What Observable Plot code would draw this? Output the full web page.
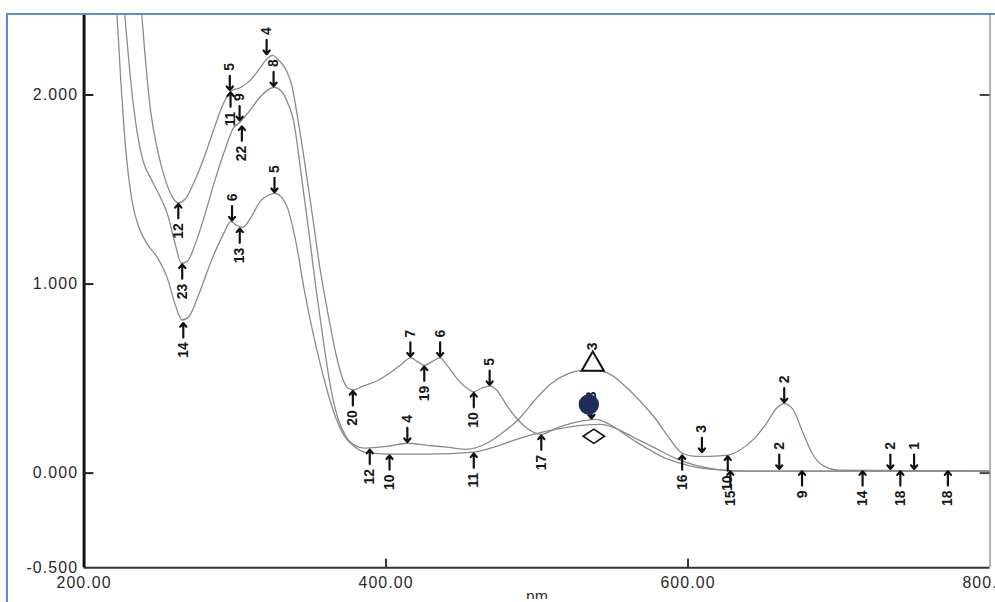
<!DOCTYPE html>
<html><head><meta charset="utf-8">
<script src="https://cdn.jsdelivr.net/npm/d3@7"></script>
<script src="https://cdn.jsdelivr.net/npm/@observablehq/plot@0.6"></script>
<style>
html,body{margin:0;padding:0;background:#fff;overflow:hidden;width:995px;height:602px;}
#wrap{position:relative;width:995px;height:602px;overflow:hidden;}
#border{position:absolute;left:6px;top:13px;width:2000px;height:1000px;border-top:2px solid #5b8bd0;border-left:2px solid #5b8bd0;pointer-events:none;}
svg{font-family:"Liberation Sans",Arial,sans-serif;}
g[aria-label="x-axis tick label"] text, g[aria-label="y-axis tick label"] text{letter-spacing:1.1px;}
</style></head><body><div id="wrap"><div id="chart"></div><div id="border"></div></div>
<script>
// axis ticks
const wavelengthTicks = [200, 400, 600, 800];
const xTickLabels = ["200.00", "400.00", "600.00", "800.00"];
const absTicks = [-0.5, 0, 1, 2];
const yTickLabels = ["-0.500", "0.000", "1.000", "2.000"];

// spectrum 1 (highest in UV, bands 400-470 nm)
const curveA_nm = [234.2,238.1,240.7,244.0,248.6,253.9,258.5,262.4,267.0,272.9,279.5,286.0,292.0,297.2,303.8,310.3,316.3,320.9,324.8,329.4,334.0,337.9,340.6,345.8,351.1,356.3,361.6,366.8,370.8,374.7,378.7,384.6,394.4,404.3,410.8,416.1,420.7,425.3,430.5,435.8,440.4,447.0,453.5,458.1,463.4,468.6,473.2,479.8,486.4,492.9,502.8,512.6,522.5,532.3,538.9,546.8,555.3,565.2,575.0,584.9,594.7,604.6,614.5,624.3,644.0,800];
const curveA_abs = [2.66,2.43,2.18,1.92,1.71,1.55,1.46,1.43,1.45,1.54,1.67,1.82,1.95,2.02,2.04,2.08,2.14,2.19,2.21,2.18,2.13,2.04,1.92,1.66,1.37,1.08,0.84,0.63,0.51,0.45,0.44,0.46,0.49,0.54,0.58,0.61,0.59,0.57,0.59,0.61,0.57,0.50,0.45,0.43,0.45,0.46,0.44,0.36,0.29,0.24,0.205,0.237,0.263,0.279,0.284,0.263,0.221,0.168,0.121,0.079,0.053,0.032,0.021,0.016,0.011,0.011];

// spectrum 2 (broad band ~538 nm and band 664 nm)
const curveT_nm = [224.3,226.9,230.2,234.8,238.8,244.7,249.9,255.2,260.4,264.4,268.3,273.6,280.1,286.7,293.3,298.5,303.8,309.0,315.6,322.2,326.1,330.7,335.3,338.6,343.8,349.1,353.7,358.3,362.9,368.1,373.4,379.3,385.9,401.0,414.1,427.3,440.4,453.5,466.7,476.5,488.3,499.5,509.4,519.2,529.1,538.9,548.8,558.6,568.5,578.3,586.2,596.1,604.6,614.5,626.3,634.2,644.0,651.9,658.5,663.7,669.0,675.5,682.1,690.0,699.8,800];
const curveT_abs = [2.66,2.43,2.13,1.82,1.66,1.55,1.47,1.37,1.21,1.11,1.12,1.21,1.37,1.55,1.71,1.82,1.86,1.91,1.98,2.03,2.04,2.02,1.95,1.87,1.58,1.26,0.97,0.71,0.47,0.29,0.195,0.147,0.132,0.142,0.158,0.147,0.137,0.126,0.158,0.21,0.289,0.395,0.474,0.521,0.542,0.542,0.521,0.458,0.379,0.289,0.2,0.105,0.089,0.089,0.095,0.121,0.184,0.263,0.342,0.368,0.342,0.226,0.105,0.037,0.016,0.011];

// spectrum 3 (lowest in UV)
const curveL_nm = [219.0,221.7,224.3,227.6,231.5,236.8,242.0,248.6,255.2,260.4,265.0,269.6,276.2,284.1,292.0,297.2,301.1,305.1,310.3,316.9,322.2,326.1,330.7,335.3,340.6,345.8,351.1,356.3,361.6,366.8,372.1,378.0,385.9,402.3,427.3,458.1,473.2,486.4,502.8,515.9,529.1,542.2,552.1,565.2,578.3,591.5,604.6,617.7,630.9,800];
const curveL_abs = [2.66,2.43,2.08,1.71,1.45,1.29,1.21,1.14,1.03,0.89,0.81,0.83,0.95,1.12,1.26,1.33,1.31,1.30,1.35,1.44,1.47,1.48,1.46,1.39,1.21,0.97,0.76,0.58,0.42,0.29,0.20,0.147,0.111,0.10,0.10,0.111,0.142,0.179,0.216,0.237,0.253,0.258,0.237,0.184,0.132,0.079,0.042,0.021,0.011,0.011];

// peak-pick labels (arrow from above)
const peakNm   = [320.9, 325.5, 296.5, 303.0, 326.1, 298.0, 416.1, 435.8, 468.6, 414.1, 536.9, 536.0, 609.2, 663.7, 660.4, 734.0, 749.7];
const peakAbs  = [2.21, 2.04, 2.02, 1.86, 1.48, 1.33, 0.61, 0.61, 0.46, 0.158, 0.542, 0.283, 0.105, 0.368, 0.016, 0.016, 0.016];
const peakText = ["4","8","5","9","5","6","7","6","5","4","3","3","3","2","2","2","1"];

// valley-pick labels (arrow from below)
const valleyNm   = [262.4, 265.0, 265.7, 303.1, 297.0, 304.5, 378.0, 425.3, 458.1, 389.2, 402.3, 458.1, 502.8, 596.1, 626.3, 628.0, 675.5, 715.6, 740.6, 772.1];
const valleyAbs  = [1.43, 1.11, 0.80, 1.30, 2.02, 1.84, 0.44, 0.57, 0.43, 0.13, 0.10, 0.11, 0.205, 0.10, 0.095, 0.016, 0.016, 0.016, 0.016, 0.016];
const valleyText = ["12","23","14","13","11","22","20","19","10","12","10","11","17","16","10","15","9","14","18","18"];

// sample markers
const markerNm  = [536.9, 534.3, 537.6];
const markerAbs = [0.575, 0.363, 0.195];
const markerKind = ["triangle", "circle", "diamond"];

const rows = [];
[[curveA_nm, curveA_abs, "A"], [curveT_nm, curveT_abs, "T"], [curveL_nm, curveL_abs, "L"]].forEach(([n, a, s]) => {
  n.forEach((v, i) => rows.push({s, nm: v, abs: a[i]}));
});
const peaks = peakNm.map((v, i) => ({nm: v, abs: peakAbs[i], t: peakText[i]}));
const valleys = valleyNm.map((v, i) => ({nm: v, abs: valleyAbs[i], t: valleyText[i]}));
const markers = markerNm.map((v, i) => ({nm: v, abs: markerAbs[i], k: markerKind[i]}));

const flatDiamond = {
  draw(ctx, size) {
    const r = Math.sqrt(size / Math.PI);
    ctx.moveTo(-1.2 * r, 0); ctx.lineTo(0, -0.8 * r); ctx.lineTo(1.2 * r, 0); ctx.lineTo(0, 0.8 * r); ctx.closePath();
  }
};

const ARROW = 0.082, GAP = 0.006, LAB = 0.108;
const labelStyle = {rotate: -90, lineAnchor: "middle", fontSize: 14, fontWeight: "bold", fill: "#151515"};

const chart = Plot.plot({
  width: 1000, height: 602,
  marginLeft: 84, marginRight: 5.5, marginTop: 15, marginBottom: 32,
  x: {domain: [200, 800]},
  y: {domain: [-0.5, 2.421]},
  marks: [
    Plot.line(rows, {x: "nm", y: "abs", z: "s", stroke: "#8a8a8a", strokeWidth: 1.3, curve: "monotone-x", clip: true}),
    // frame lines and inward ticks
    Plot.ruleX([800], {stroke: "#9a9a9a", strokeWidth: 1.5}),
    Plot.ruleY([-0.5], {stroke: "#333", strokeWidth: 2}),
    Plot.ruleX([200], {stroke: "#111", strokeWidth: 3}),
    Plot.ruleY(absTicks.filter(d => d > -0.5), {x1: 200, x2: 206.5, stroke: "#222", strokeWidth: 2}),
    Plot.ruleY([0, 2], {x1: 793.5, x2: 800, stroke: "#444", strokeWidth: 2}),
    Plot.ruleX(wavelengthTicks.filter(d => d > 200 && d < 800), {y1: -0.5, y2: -0.455, stroke: "#333", strokeWidth: 2}),
    Plot.axisY(absTicks, {anchor: "left", tickSize: 0, tickPadding: 6, fontSize: 16, color: "#2a2a2a", label: null,
      tickFormat: d => yTickLabels[absTicks.indexOf(d)]}),
    Plot.axisX(wavelengthTicks, {anchor: "bottom", tickSize: 0, tickPadding: 9, fontSize: 16, color: "#2a2a2a", label: null,
      tickFormat: d => xTickLabels[wavelengthTicks.indexOf(d)]}),
    Plot.text(["nm"], {frameAnchor: "bottom", dy: 23, lineAnchor: "top", fontSize: 16, fill: "#333"}),
    // peak annotations
    Plot.arrow(peaks, {x: "nm", y1: d => d.abs + ARROW, y2: d => d.abs + GAP, stroke: "#111", strokeWidth: 2.2, headLength: 8, headAngle: 80}),
    Plot.text(peaks, {x: "nm", y: d => d.abs + LAB, text: "t", textAnchor: "start", ...labelStyle}),
    Plot.arrow(valleys, {x: "nm", y1: d => d.abs - ARROW, y2: d => d.abs - GAP, stroke: "#111", strokeWidth: 2.2, headLength: 8, headAngle: 80}),
    Plot.text(valleys, {x: "nm", y: d => d.abs - LAB, text: "t", textAnchor: "end", ...labelStyle}),
    // sample markers
    Plot.dot(markers.filter(d => d.k === "triangle"), {x: "nm", y: "abs", symbol: "triangle", r: 8.3, fill: "white", stroke: "#111", strokeWidth: 2}),
    Plot.dot(markers.filter(d => d.k === "circle"), {x: "nm", y: "abs", r: 9.5, fill: "#1f2d5a", stroke: "#1f2d5a"}),
    Plot.dot(markers.filter(d => d.k === "diamond"), {x: "nm", y: "abs", symbol: flatDiamond, r: 9, fill: "white", stroke: "#111", strokeWidth: 1.6})
  ]
});
document.getElementById("chart").appendChild(chart);
</script></body></html>
